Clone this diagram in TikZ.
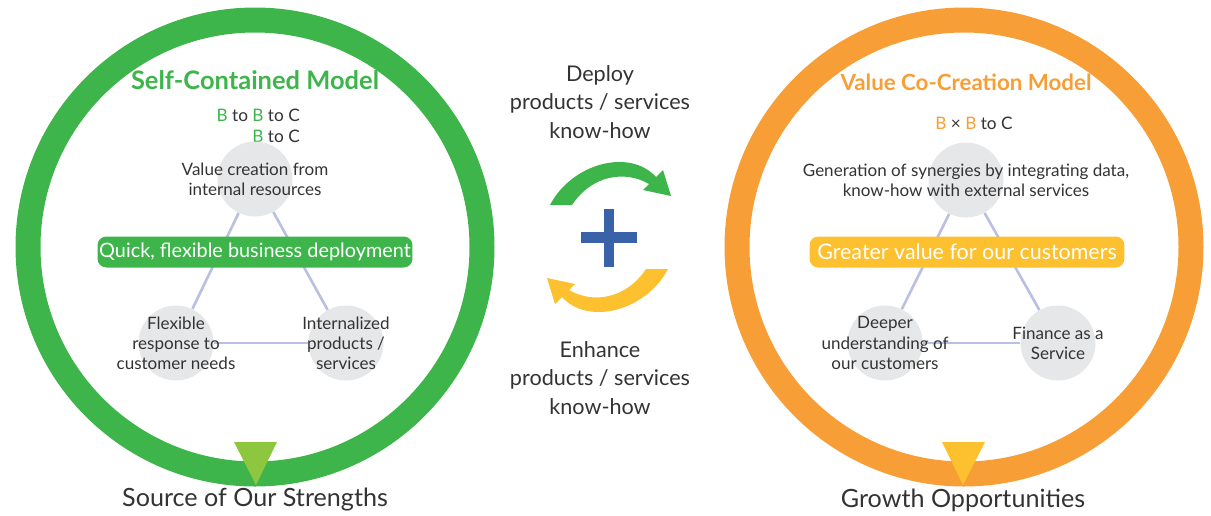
\documentclass[tikz,border=0pt]{standalone}
\usepackage{fontspec}
\setmainfont{Lato}
\usetikzlibrary{positioning}
\definecolor{ringgreen}{HTML}{3DB54A}
\definecolor{ringorange}{HTML}{F79E36}
\definecolor{sunyellow}{HTML}{FDC02F}
\definecolor{leafgreen}{HTML}{8DC63F}
\definecolor{hubgray}{HTML}{E6E7E8}
\definecolor{linklav}{HTML}{BBC0E2}
\definecolor{plusblue}{HTML}{3A62A8}
\definecolor{inkgray}{HTML}{333333}
\tikzset{
  ring/.style={line width=0.5cm},
  hub/.style={circle, fill=hubgray, minimum size=1.5cm, inner sep=0pt},
  hubtext/.style={font=\fontsize{9.7}{11.5}\selectfont, text=inkgray, align=center},
  link/.style={draw=linklav, line width=1.5pt},
  banner/.style={rounded corners=5pt, text=white, minimum width=6.3cm,
    minimum height=0.62cm, inner sep=0pt, font=\fontsize{11.3}{13}\selectfont},
  heading/.style={font=\fontsize{14.5}{16}\selectfont\bfseries},
  caption/.style={font=\fontsize{14.3}{16}\selectfont, text=inkgray},
  flowtext/.style={font=\fontsize{12.3}{16.2}\selectfont, text=inkgray, align=center},
  ratio/.style={font=\fontsize{9.8}{12}\selectfont, text=inkgray, align=right}
}

\begin{document}
\begin{tikzpicture}[x=0.02cm, y=-0.02cm]
  \useasboundingbox (0,0) rectangle (1211,515);

  % Left: self-contained model
  \draw[ring, ringgreen] (255,247) circle (227);
  \fill[leafgreen] (234,442) -- (277,442) -- (256,485) -- cycle;
  \node[heading, text=ringgreen] (lefttitle) at (255,80) {Self-Contained Model};
  \node[ratio, anchor=north east] (leftratio) at (306,103)
    {\textcolor{ringgreen}{B} to \textcolor{ringgreen}{B} to C\\\textcolor{ringgreen}{B} to C};

  \node[hub] (internal) at (255,179) {};
  \node[hub] (flexible) at (176,343) {};
  \node[hub] (products) at (346,343) {};
  \draw[link] (internal) -- (flexible);
  \draw[link] (internal) -- (products);
  \draw[link] (flexible) -- (products);
  \node[hubtext] at (internal) {Value creation from\\internal resources};
  \node[hubtext] at (flexible) {Flexible\\response to\\customer needs};
  \node[hubtext] at (products) {Internalized\\products /\\services};
  \node[banner, fill=ringgreen] (quick) at (255,252) {Quick, flexible business deployment};
  \node[caption] (strengths) at (255,500) {Source of Our Strengths};

  % Middle: exchange between the two models
  \node[flowtext] (deploy) at (600,102) {Deploy\\products / services\\know-how};
  \node[flowtext] (enhance) at (600,378) {Enhance\\products / services\\know-how};
  \fill[ringgreen] (550,205) .. controls (572,163) and (630,148) .. (656,177)
    -- (663,170) -- (671,196) -- (643,190) -- (649,184)
    .. controls (625,170) and (592,175) .. (572,205) -- cycle;
  \begin{scope}[rotate around={180:(609,237)}]
    \fill[sunyellow] (550,205) .. controls (572,163) and (630,148) .. (656,177)
      -- (663,170) -- (671,196) -- (643,190) -- (649,184)
      .. controls (625,170) and (592,175) .. (572,205) -- cycle;
  \end{scope}
  \fill[plusblue] (581,232) rectangle (637,243);
  \fill[plusblue] (604,209) rectangle (614,267);

  % Right: value co-creation model
  \draw[ring, ringorange] (964,247) circle (227);
  \fill[sunyellow] (942,442) -- (985,442) -- (963,485) -- cycle;
  \node[heading, text=ringorange, font=\fontsize{12.7}{15}\selectfont\bfseries] (righttitle) at (966,82) {Value Co-Creation Model};
  \node[ratio] (rightratio) at (974,123)
    {\textcolor{ringorange}{B} × \textcolor{ringorange}{B} to C};

  \node[hub] (synergy) at (966,180) {};
  \node[hub] (deeper) at (885,343) {};
  \node[hub] (finance) at (1058,343) {};
  \draw[link] (synergy) -- (deeper);
  \draw[link] (synergy) -- (finance);
  \draw[link] (deeper) -- (finance);
  \node[hubtext] at (synergy) {Generation of synergies by integrating data,\\know-how with external services};
  \node[hubtext] at (deeper) {Deeper\\understanding of\\our customers};
  \node[hubtext] at (finance) {Finance as a\\Service};
  \node[banner, fill=sunyellow, font=\fontsize{12.2}{14}\selectfont] (greater) at (967,252) {Greater value for our customers};
  \node[caption] (growth) at (963,500) {Growth Opportunities};
\end{tikzpicture}
\end{document}
